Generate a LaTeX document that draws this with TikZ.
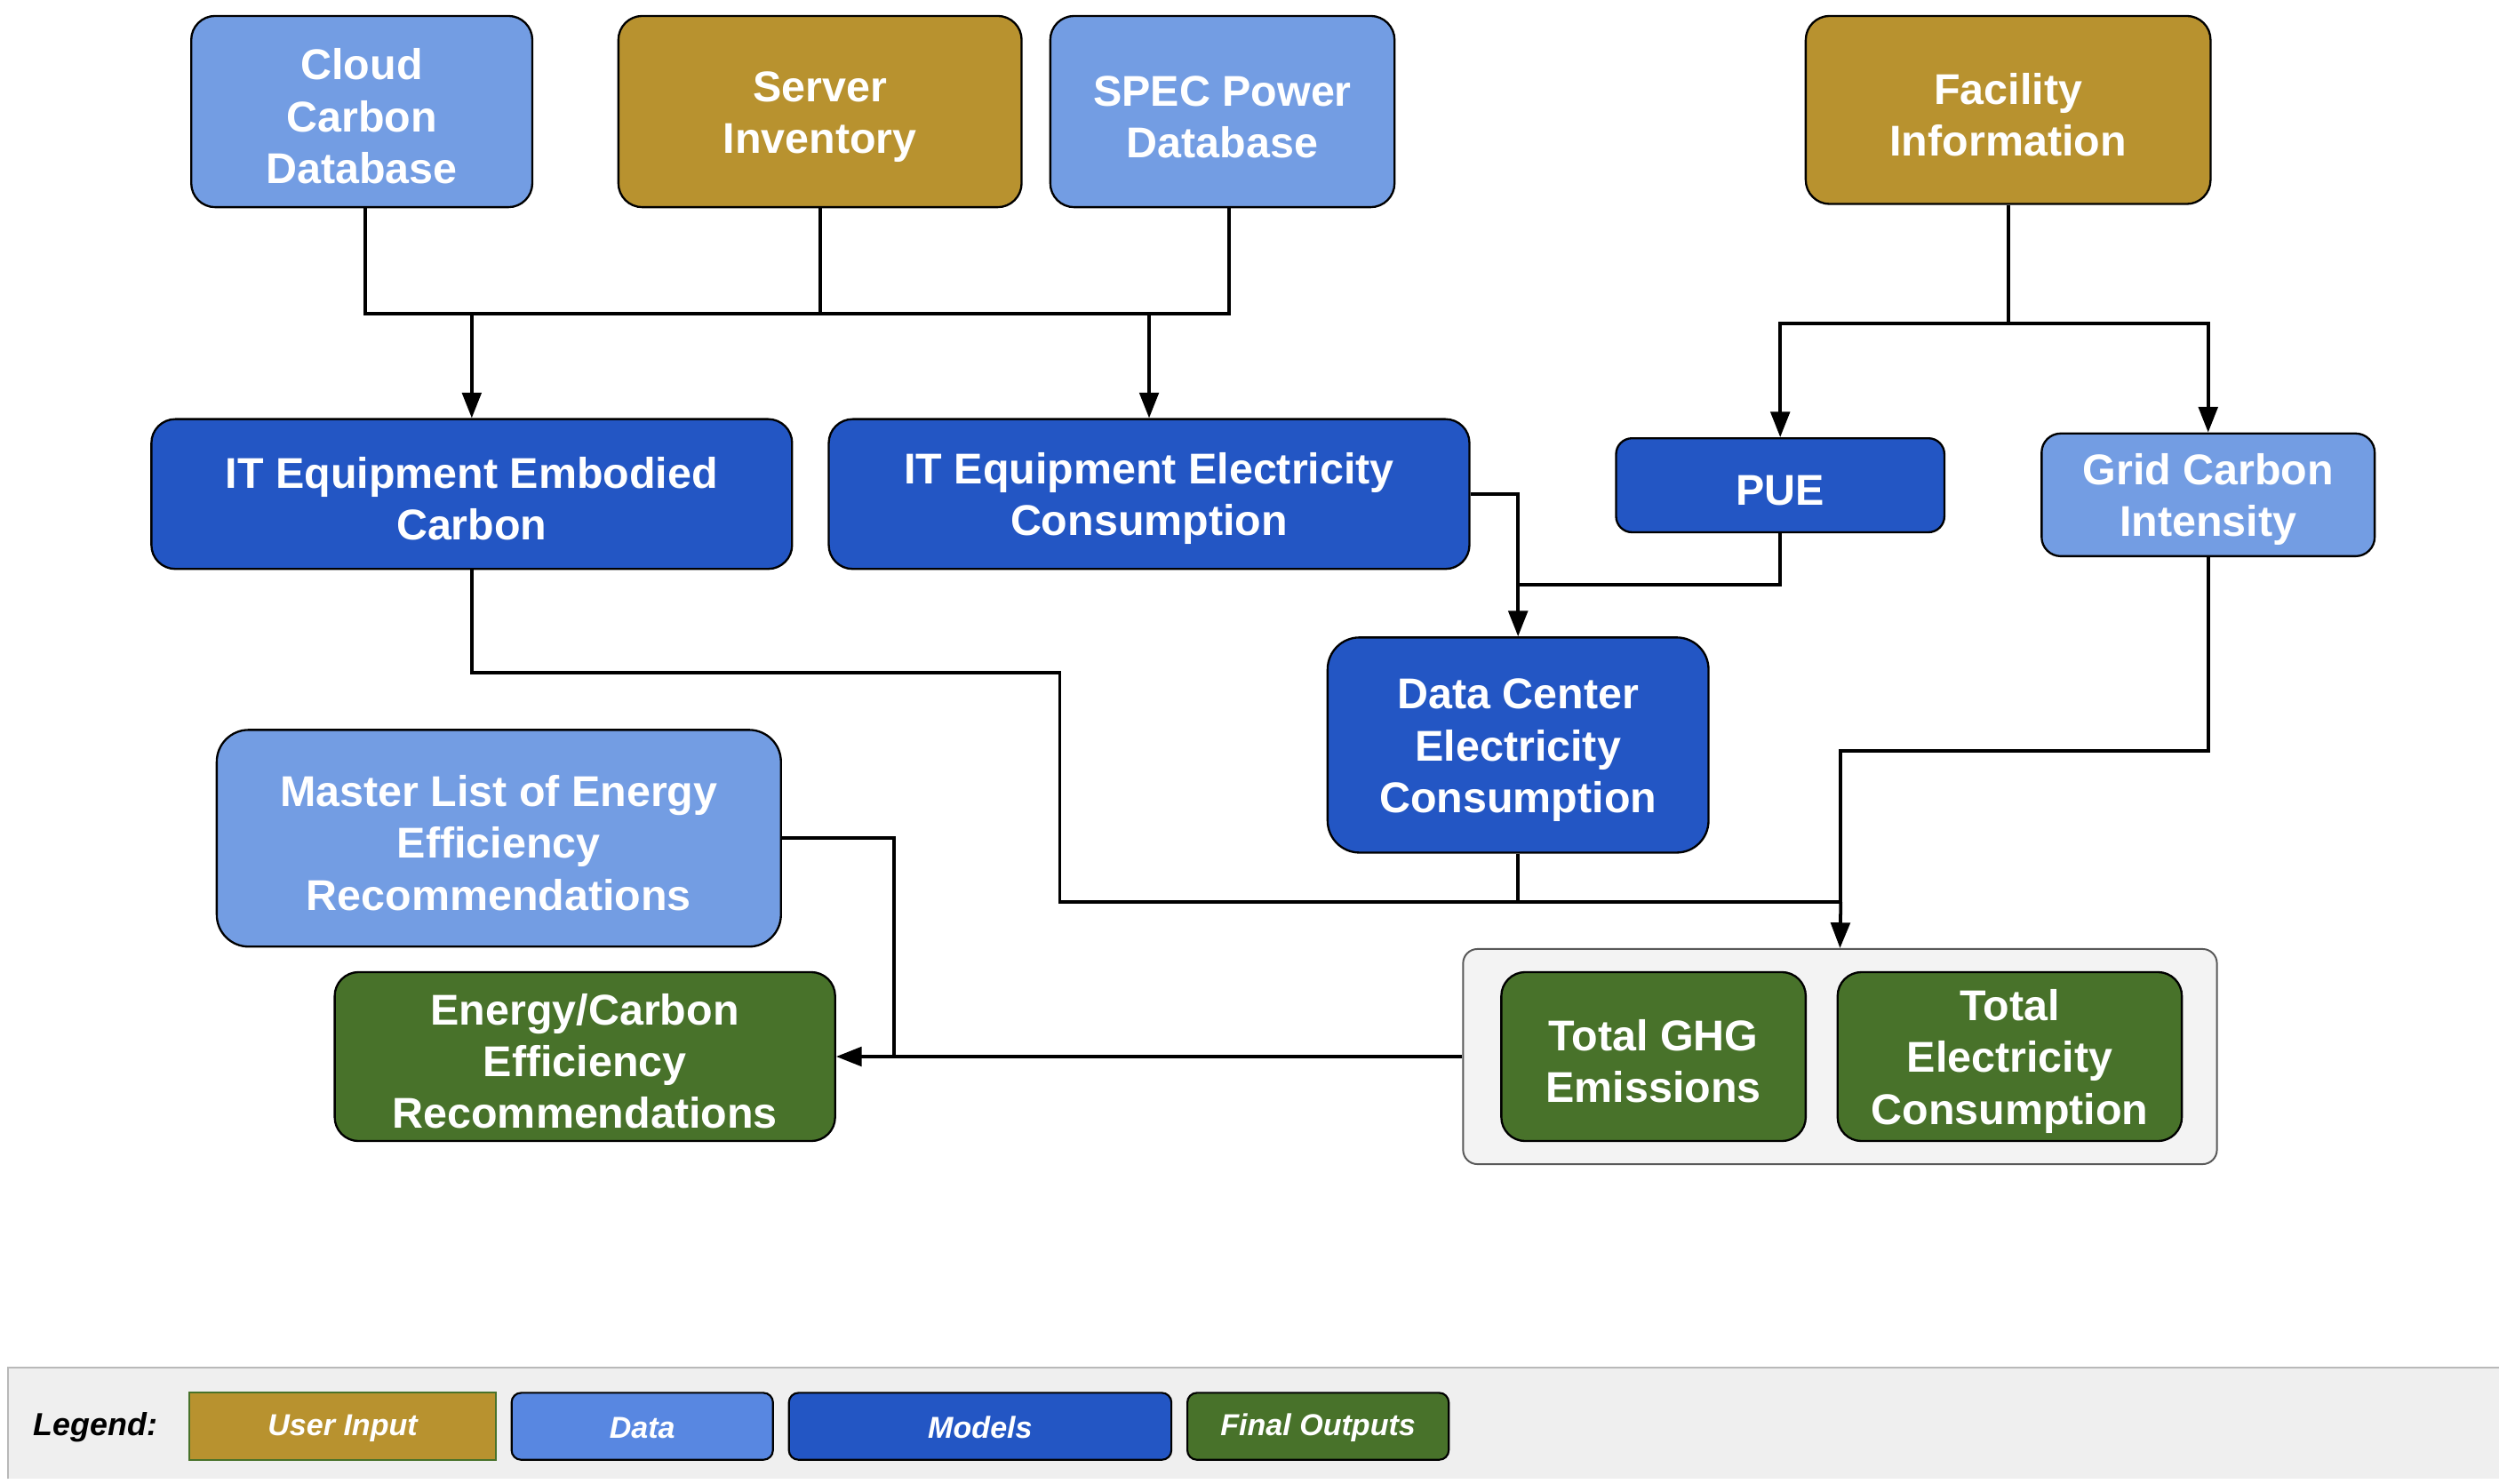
\documentclass[tikz,border=0pt]{standalone}
\usepackage{fontspec}
\setmainfont{Liberation Sans}
\usetikzlibrary{arrows.meta}
\definecolor{cinput}{HTML}{B8922F}
\definecolor{cdata}{HTML}{739DE3}
\definecolor{cdatalg}{HTML}{5887E1}
\definecolor{cmodel}{HTML}{2356C4}
\definecolor{cfinal}{HTML}{48722A}
\definecolor{cstrip}{HTML}{EFEFEF}
\definecolor{cbox}{HTML}{F3F3F3}
\newcommand{\fstrut}{\rule{0pt}{25.5pt}}
\tikzset{
  x=1pt,y=-1pt,
  box/.style={draw=black, line width=1.3pt, rounded corners=15pt, text=white, align=center,
    inner sep=0pt, font=\fontsize{27}{32.5}\selectfont\bfseries},
  inp/.style={box, fill=cinput},
  dat/.style={box, fill=cdata},
  mdl/.style={box, fill=cmodel},
  fin/.style={box, fill=cfinal},
  conn/.style={draw=black, line width=2.1pt},
  arr/.style={conn, -{Triangle[length=16pt,width=12pt]}},
  lg/.style={text=white, font=\fontsize{19}{22}\selectfont\bfseries\itshape, inner sep=0pt,
    minimum height=42pt, line width=1.2pt, execute at begin node={\rule{0pt}{15.5pt}}},
}
\begin{document}
\begin{tikzpicture}
\useasboundingbox (0,0) rectangle (1568,931);
% top row
\node[dat, minimum width=214pt, minimum height=120pt] (ccd) at (227,70) {\fstrut Cloud\\Carbon\\Database};
\node[inp, minimum width=253pt, minimum height=120pt] (srv) at (514.5,70) {\fstrut Server\\Inventory};
\node[dat, minimum width=216pt, minimum height=120pt] (spec) at (767,70) {\fstrut SPEC Power\\Database};
\node[inp, minimum width=254pt, minimum height=118pt] (fac) at (1260,69) {\fstrut Facility\\Information};
% second row
\node[mdl, minimum width=402pt, minimum height=94pt] (emb) at (296,310) {\fstrut IT Equipment Embodied\\Carbon};
\node[mdl, minimum width=402pt, minimum height=94pt] (itel) at (721,310) {\fstrut IT Equipment Electricity\\Consumption};
\node[mdl, minimum width=206pt, minimum height=59pt, rounded corners=10pt] (pue) at (1117,304.5) {\fstrut PUE};
\node[dat, minimum width=209pt, minimum height=77pt, rounded corners=12pt] (grid) at (1385.5,310.5) {\fstrut Grid Carbon\\Intensity};
% middle
\node[mdl, minimum width=239pt, minimum height=135pt, rounded corners=20pt] (dc) at (952.5,467.5) {\fstrut Data Center\\Electricity\\Consumption};
\node[dat, minimum width=354pt, minimum height=136pt, rounded corners=20pt] (ml) at (313,526) {\fstrut Master List of Energy\\Efficiency\\Recommendations};
\node[fin, minimum width=314pt, minimum height=106pt] (ecr) at (367,663) {\fstrut Energy/Carbon\\Efficiency\\Recommendations};
% outputs container
\node[draw=gray!70!black, fill=cbox, line width=1.1pt, rounded corners=9pt, minimum width=473pt, minimum height=135pt, inner sep=0pt] (cont) at (1154.5,663) {};
\node[fin, minimum width=191pt, minimum height=106pt] (ghg) at (1037.5,663) {\fstrut Total GHG\\Emissions};
\node[fin, minimum width=216pt, minimum height=106pt] (tec) at (1261,663) {\fstrut Total\\Electricity\\Consumption};
% connectors: top bus
\coordinate (busL) at (229,197);
\coordinate (busR) at (771,197);
\draw[conn] (ccd.south -| busL) -- (busL) -- (busR) -- (spec.south -| busR);
\draw[conn] (srv.south) -- (srv.south |- busL);
\draw[arr] (emb.north |- busL) -- (emb.north);
\draw[arr] (itel.north |- busL) -- (itel.north);
% facility
\coordinate (fbus) at (1260,203);
\draw[conn] (fac.south) -- (fbus);
\draw[arr] (fbus) -| (pue.north);
\draw[arr] (fbus) -| (grid.north);
% to data center
\coordinate (pj) at (952,367);
\draw[arr] (itel.east) -| (dc.north);
\draw[conn] (pue.south) |- (pj);
% to outputs
\coordinate (k1) at (665,422);
\coordinate (k2) at (665,566);
\coordinate (k3) at (1155,566);
\coordinate (g1) at (1155,471);
\draw[conn] (emb.south) |- (k1) -- (k2) -- (k3);
\draw[conn] (dc.south) -- (dc.south |- k3);
\draw[conn] (grid.south) |- (g1) -- (k3);
\draw[arr] (k3) -- (cont.north);
% to recommendations
\coordinate (jm) at (561,663);
\draw[arr] (cont.west) -- (ecr.east);
\draw[conn] (ml.east) -| (jm);
% legend
\path[fill=cstrip] (5,858) rectangle (1568,928);
\draw[color=gray!55, line width=1.2pt] (5,928) -- (5,858) -- (1568,858);
\node[font=\fontsize{20}{24}\selectfont\bfseries\itshape, text=black, inner sep=0pt] (lgt) at (60,895.5) {Legend:};
\node[lg, fill=cinput, draw=cfinal, minimum width=192pt] (lui) at (215,895) {User Input};
\node[lg, fill=cdatalg, draw=black, rounded corners=6pt, minimum width=164pt] (ldat) at (403,895) {Data};
\node[lg, fill=cmodel, draw=black, rounded corners=6pt, minimum width=240pt] (lmod) at (615,895) {Models};
\node[lg, fill=cfinal, draw=black, rounded corners=6pt, minimum width=164pt] (lfin) at (827,895) {Final Outputs};
\end{tikzpicture}
\end{document}
